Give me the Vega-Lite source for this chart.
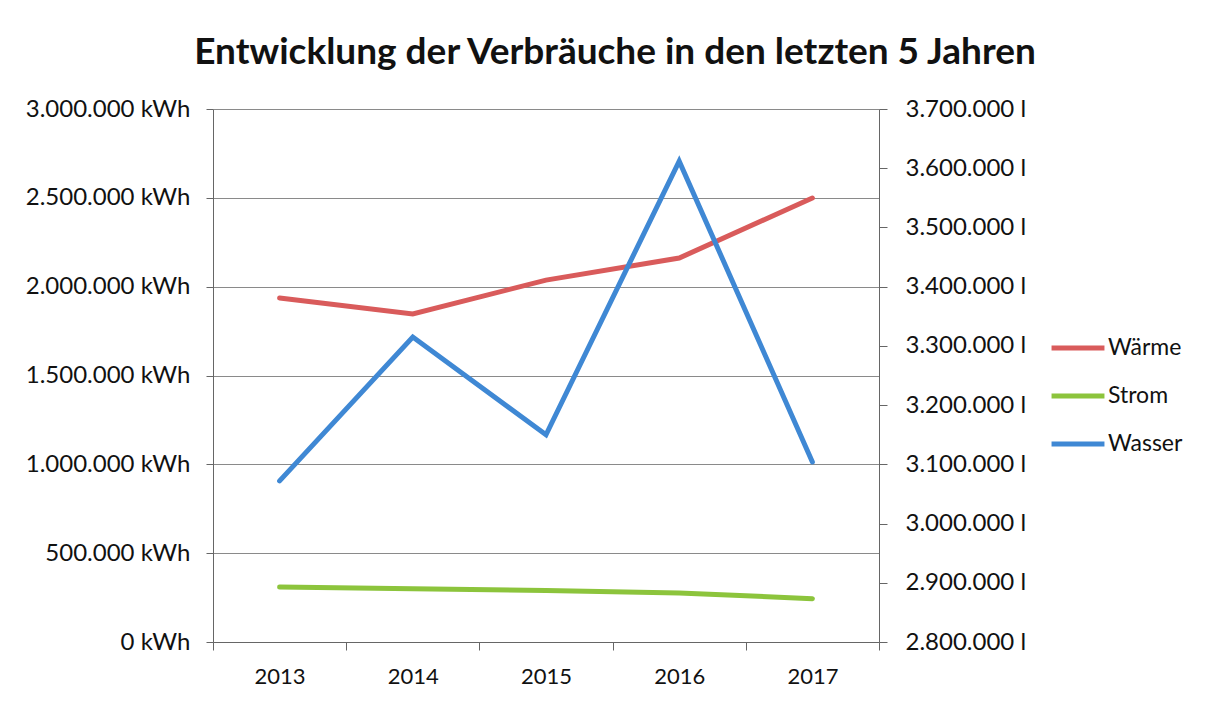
{
  "$schema": "https://vega.github.io/schema/vega-lite/v6.json",
  "autosize": {"type": "none"},
  "width": 666,
  "height": 533,
  "padding": {"left": 213, "top": 109, "right": 337, "bottom": 62},
  "background": "white",
  "title": {
    "text": "Entwicklung der Verbräuche in den letzten 5 Jahren",
    "font": "Lato",
    "fontSize": 37,
    "fontWeight": "bold",
    "color": "#111111",
    "anchor": "middle",
    "dx": 69,
    "offset": 25
  },
  "data": {
    "values": [
      {"Jahr": "2013", "Serie": "Wärme", "Wert": 1936000},
      {"Jahr": "2014", "Serie": "Wärme", "Wert": 1846000},
      {"Jahr": "2015", "Serie": "Wärme", "Wert": 2037000},
      {"Jahr": "2016", "Serie": "Wärme", "Wert": 2161000},
      {"Jahr": "2017", "Serie": "Wärme", "Wert": 2499000},
      {"Jahr": "2013", "Serie": "Strom", "Wert": 309000},
      {"Jahr": "2014", "Serie": "Strom", "Wert": 300000},
      {"Jahr": "2015", "Serie": "Strom", "Wert": 290000},
      {"Jahr": "2016", "Serie": "Strom", "Wert": 276000},
      {"Jahr": "2017", "Serie": "Strom", "Wert": 244000},
      {"Jahr": "2013", "Serie": "Wasser", "Wert": 3072000},
      {"Jahr": "2014", "Serie": "Wasser", "Wert": 3315000},
      {"Jahr": "2015", "Serie": "Wasser", "Wert": 3150000},
      {"Jahr": "2016", "Serie": "Wasser", "Wert": 3612000},
      {"Jahr": "2017", "Serie": "Wasser", "Wert": 3104000}
    ]
  },
  "config": {
    "view": {"stroke": null},
    "axis": {
      "labelFont": "Lato",
      "labelFontSize": 24,
      "labelColor": "#111111",
      "domainColor": "#666666",
      "tickColor": "#666666",
      "gridColor": "#8a8a8a",
      "title": null
    },
    "legend": {
      "labelFont": "Lato",
      "labelFontSize": 23,
      "labelColor": "#111111"
    }
  },
  "encoding": {
    "x": {
      "field": "Jahr",
      "type": "ordinal",
      "scale": {"type": "band", "paddingInner": 0, "paddingOuter": 0},
      "axis": {
        "labelAngle": 0,
        "labelFontSize": 22,
        "tickBand": "extent",
        "tickSize": 8,
        "labelPadding": 16,
        "grid": false
      }
    },
    "color": {
      "field": "Serie",
      "type": "nominal",
      "scale": {
        "domain": ["Wärme", "Strom", "Wasser"],
        "range": ["#d95b5b", "#8cc43c", "#3f88d4"]
      },
      "legend": {
        "title": null,
        "orient": "none",
        "legendX": 836,
        "legendY": 210,
        "symbolType": "stroke",
        "symbolSize": 2800,
        "symbolStrokeWidth": 5,
        "labelOffset": 1,
        "rowPadding": 7
      }
    }
  },
  "layer": [
    {
      "transform": [{"filter": "datum.Serie !== 'Wasser'"}],
      "mark": {"type": "line", "strokeWidth": 5, "strokeCap": "round"},
      "encoding": {
        "y": {
          "field": "Wert",
          "type": "quantitative",
          "scale": {"domain": [0, 3000000], "nice": false},
          "axis": {
            "values": [0, 500000, 1000000, 1500000, 2000000, 2500000, 3000000],
            "labelExpr": "replace(format(datum.value, ','), regexp(',', 'g'), '.') + ' kWh'",
            "tickSize": 7,
            "labelPadding": 16,
            "grid": true
          }
        }
      }
    },
    {
      "transform": [{"filter": "datum.Serie === 'Wasser'"}],
      "mark": {"type": "line", "strokeWidth": 5, "strokeCap": "round"},
      "encoding": {
        "y": {
          "field": "Wert",
          "type": "quantitative",
          "scale": {"domain": [2800000, 3700000], "nice": false, "zero": false},
          "axis": {
            "orient": "right",
            "values": [2800000, 2900000, 3000000, 3100000, 3200000, 3300000, 3400000, 3500000, 3600000, 3700000],
            "labelExpr": "replace(format(datum.value, ','), regexp(',', 'g'), '.') + ' l'",
            "tickSize": 8,
            "labelPadding": 18,
            "grid": false
          }
        }
      }
    }
  ],
  "resolve": {"scale": {"y": "independent"}}
}
